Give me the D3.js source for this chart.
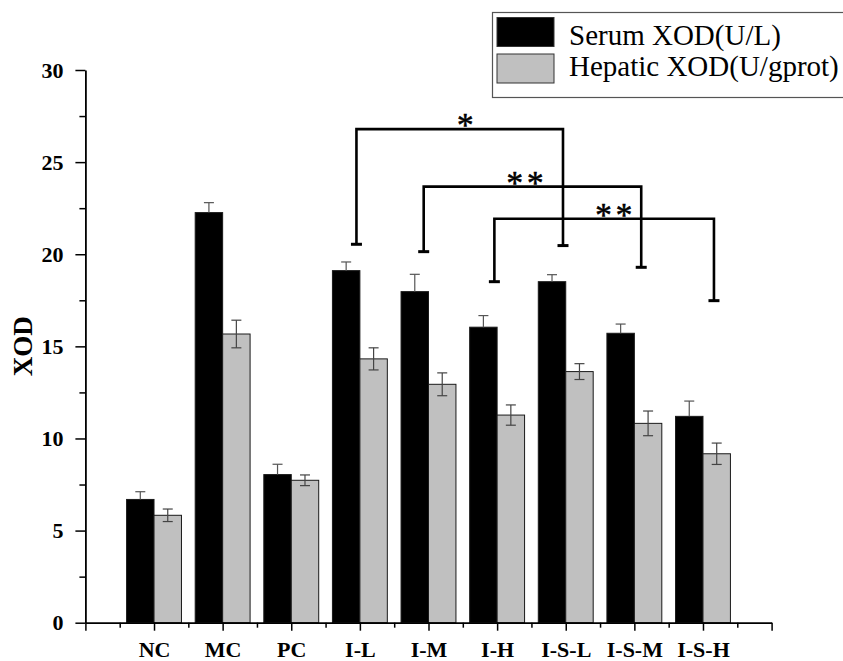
<!DOCTYPE html>
<html>
<head>
<meta charset="utf-8">
<script src="https://cdn.jsdelivr.net/npm/d3@7"></script>
<style>
  html, body { margin: 0; padding: 0; background: #fff; }
  svg { display: block; }
</style>
</head>
<body>
<svg id="chart" width="843" height="661"></svg>
<script>
// data
const categories = ['NC', 'MC', 'PC', 'I-L', 'I-M', 'I-H', 'I-S-L', 'I-S-M', 'I-S-H'];
const serum = [6.69, 22.26, 8.04, 19.11, 17.97, 16.04, 18.51, 15.71, 11.2];
const serumErr = [0.42, 0.54, 0.56, 0.47, 0.94, 0.63, 0.38, 0.5, 0.83];
const hepatic = [5.83, 15.67, 7.73, 14.32, 12.94, 11.27, 13.63, 10.82, 9.17];
const hepaticErr = [0.34, 0.75, 0.29, 0.6, 0.62, 0.55, 0.43, 0.67, 0.58];
const seriesNames = ['Serum XOD(U/L)', 'Hepatic XOD(U/gprot)'];
const yTicks = [0, 5, 10, 15, 20, 25, 30];

// significance brackets: [from, to], top level, left foot, right foot (in XOD units)
const bracketPairs = [['I-L', 'I-S-L'], ['I-M', 'I-S-M'], ['I-H', 'I-S-H']];
const bracketTop = [26.79, 23.67, 21.93];
const bracketFeet = [[20.54, 20.47], [20.14, 19.29], [18.51, 17.48]];
const bracketLabels = ['*', '**', '**'];

const serif = '"Liberation Serif", "Times New Roman", serif';
const svg = d3.select('#chart');

const x = d3.scaleLinear().domain([0, 10]).range([85.4, 771.6]);
const y = d3.scaleLinear().domain([0, 30]).range([622.7, 70]);
const barW = x(0.4) - x(0);

const xIdx = c => categories.indexOf(c) + 1;

// bars
const groups = [
  { vals: serum, err: serumErr, fill: '#000', off: -0.4 },
  { vals: hepatic, err: hepaticErr, fill: '#c0c0c0', off: 0 }
];

groups.forEach(g => {
  svg.append('g').selectAll('rect')
    .data(g.vals)
    .enter()
    .append('rect')
    .attr('x', (d, i) => x(i + 1 + g.off))
    .attr('y', d => y(d))
    .attr('width', barW)
    .attr('height', d => y(0) - y(d))
    .attr('fill', g.fill)
    .attr('stroke', '#1a1a1a')
    .attr('stroke-width', 1);

  // error bars
  const eb = svg.append('g')
    .attr('stroke', g.fill === '#000' ? '#555' : '#444')
    .attr('stroke-width', 1.2);
  g.vals.forEach((v, i) => {
    const cx = x(i + 1 + g.off + 0.2);
    const lo = g.fill === '#000' ? v : v - g.err[i];
    eb.append('line').attr('x1', cx).attr('x2', cx).attr('y1', y(lo)).attr('y2', y(v + g.err[i]));
    eb.append('line').attr('x1', cx - 5).attr('x2', cx + 5).attr('y1', y(v + g.err[i])).attr('y2', y(v + g.err[i]));
    if (g.fill !== '#000') {
      eb.append('line').attr('x1', cx - 5).attr('x2', cx + 5).attr('y1', y(v - g.err[i])).attr('y2', y(v - g.err[i]));
    }
  });
});

// y axis
svg.append('g')
  .attr('transform', `translate(${x(0)},0)`)
  .call(d3.axisLeft(y).tickValues(d3.range(2.5, 30, 5)).tickSize(6).tickFormat(''))
  .call(g => g.select('.domain').remove())
  .selectAll('line').attr('stroke-width', 1.5);

svg.append('g')
  .attr('transform', `translate(${x(0)},0)`)
  .call(d3.axisLeft(y).tickValues(yTicks).tickSize(10).tickSizeOuter(0).tickPadding(12))
  .call(g => g.selectAll('line').attr('stroke-width', 1.5))
  .call(g => g.select('.domain').attr('stroke-width', 1.8))
  .selectAll('text')
  .attr('font-family', serif)
  .attr('font-weight', 'bold')
  .attr('font-size', 22)
  .attr('fill', '#000');

// x axis
svg.append('g')
  .attr('transform', `translate(0,${y(0)})`)
  .call(d3.axisBottom(x).tickValues(d3.range(0.5, 10, 1)).tickSize(5).tickFormat(''))
  .call(g => g.select('.domain').remove())
  .selectAll('line').attr('stroke-width', 1.5);

svg.append('g')
  .attr('transform', `translate(0,${y(0)})`)
  .call(d3.axisBottom(x).tickValues(d3.range(0, 11)).tickSize(8).tickSizeOuter(0).tickPadding(11)
    .tickFormat(d => categories[d - 1] || ''))
  .call(g => g.selectAll('line').attr('stroke-width', 1.5))
  .call(g => g.select('.domain').attr('stroke-width', 1.8))
  .selectAll('text')
  .attr('font-family', serif)
  .attr('font-weight', 'bold')
  .attr('font-size', 22)
  .attr('fill', '#000');

// y title
svg.append('text')
  .attr('transform', `translate(32,${y(15)}) rotate(-90)`)
  .attr('text-anchor', 'middle')
  .attr('font-family', serif)
  .attr('font-weight', 'bold')
  .attr('font-size', 27)
  .text('XOD');

// brackets (legs drawn slightly off-centre like the original)
const legShift = [[-0.05, -0.04], [-0.07, 0.1], [-0.04, 0.16]];
const starShift = [0.11, -0.08, 0.17];
const br = svg.append('g');
bracketPairs.forEach((p, k) => {
  const xl = x(xIdx(p[0]) + legShift[k][0]);
  const xr = x(xIdx(p[1]) + legShift[k][1]);
  const yt = y(bracketTop[k]);
  br.append('path')
    .attr('d', `M${xl},${y(bracketFeet[k][0])}V${yt}H${xr}V${y(bracketFeet[k][1])}`)
    .attr('fill', 'none')
    .attr('stroke', '#000')
    .attr('stroke-width', 2.6);
  [[xl, bracketFeet[k][0]], [xr, bracketFeet[k][1]]].forEach(f => {
    br.append('line')
      .attr('x1', f[0] - 5.5).attr('x2', f[0] + 5.5)
      .attr('y1', y(f[1])).attr('y2', y(f[1]))
      .attr('stroke', '#000').attr('stroke-width', 3);
  });
  const mid = (xIdx(p[0]) + legShift[k][0] + xIdx(p[1]) + legShift[k][1]) / 2;
  br.append('text')
    .attr('x', x(mid + starShift[k]))
    .attr('y', yt + 7)
    .attr('text-anchor', 'middle')
    .attr('font-family', serif)
    .attr('font-size', 33)
    .attr('letter-spacing', 4)
    .attr('stroke', '#000')
    .attr('stroke-width', 0.6)
    .text(bracketLabels[k]);
});

// legend
const lg = svg.append('g');
lg.append('rect')
  .attr('x', 492.5).attr('y', 12.5).attr('width', 360).attr('height', 85)
  .attr('fill', '#fff').attr('stroke', '#555').attr('stroke-width', 1.2);
seriesNames.forEach((name, i) => {
  lg.append('rect')
    .attr('x', 497).attr('y', 17.5 + i * 36.5).attr('width', 57).attr('height', 29)
    .attr('fill', groups[i].fill).attr('stroke', '#333').attr('stroke-width', 1);
  lg.append('text')
    .attr('x', 569).attr('y', 45 + i * 31)
    .attr('font-family', serif)
    .attr('font-size', 29)
    .text(name);
});
</script>
</body>
</html>
